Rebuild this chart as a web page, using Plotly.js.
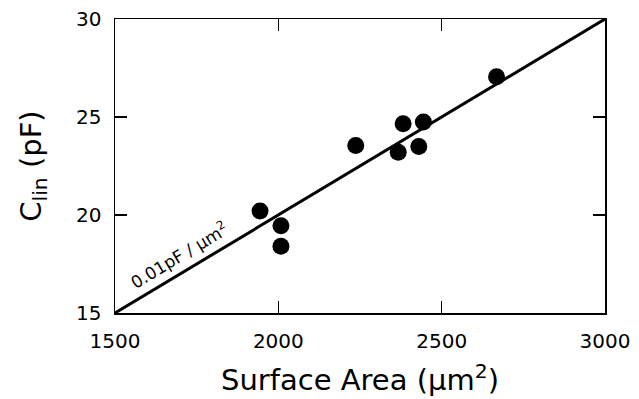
<!DOCTYPE html>
<html><head><meta charset="utf-8">
<script src="https://cdn.plot.ly/plotly-3.0.1.min.js"></script>
<style>html,body{margin:0;padding:0;background:#fff}#chart{width:639px;height:399px}</style>
</head><body><div id="chart"></div>
<script>
const surfaceArea = [1944, 2008, 2008, 2237, 2367, 2382, 2430, 2444, 2668];
const capacitance = [20.2, 19.45, 18.4, 23.55, 23.2, 24.65, 23.5, 24.75, 27.05];
const fitX = [1500, 3000];
const fitY = [15, 30];
const xTicks = [1500, 2000, 2500, 3000];
const yTicks = [15, 20, 25, 30];

const font = {family: 'DejaVu Sans, sans-serif', color: '#000'};
const data = [
  {x: fitX, y: fitY, mode: 'lines', line: {color: '#000', width: 3}, hoverinfo: 'skip'},
  {x: surfaceArea, y: capacitance, mode: 'markers', marker: {color: '#000', size: 17}}
];
const axisCommon = {
  showline: true, linecolor: '#000', linewidth: 1.5, mirror: 'ticks',
  ticks: 'inside', ticklen: 12, tickwidth: 1.2, tickcolor: '#000',
  showgrid: false, zeroline: false, automargin: false,
  tickfont: Object.assign({size: 20}, font)
};
const layout = {
  width: 639, height: 399,
  margin: {l: 115, r: 34, t: 19, b: 86},
  paper_bgcolor: '#fff', plot_bgcolor: '#fff',
  showlegend: false,
  xaxis: Object.assign({}, axisCommon, {
    range: [1500, 3000], tickvals: xTicks, ticktext: xTicks.map(String),
    ticklabelstandoff: 9,
    title: {text: 'Surface Area (μm<sup>2</sup>)', font: Object.assign({size: 29}, font), standoff: 18}
  }),
  yaxis: Object.assign({}, axisCommon, {
    range: [15, 30], tickvals: yTicks, ticktext: yTicks.map(String),
    ticklabelstandoff: 8,
    title: {text: 'C<sub>lin</sub> (pF)', font: Object.assign({size: 29}, font), standoff: 26}
  }),
  annotations: [{
    x: 1695, y: 17.95, xref: 'x', yref: 'y', text: '0.01pF / μm<sup>2</sup>',
    showarrow: false, textangle: -31, font: Object.assign({size: 17}, font)
  }]
};
Plotly.newPlot('chart', data, layout, {staticPlot: true});
</script></body></html>
